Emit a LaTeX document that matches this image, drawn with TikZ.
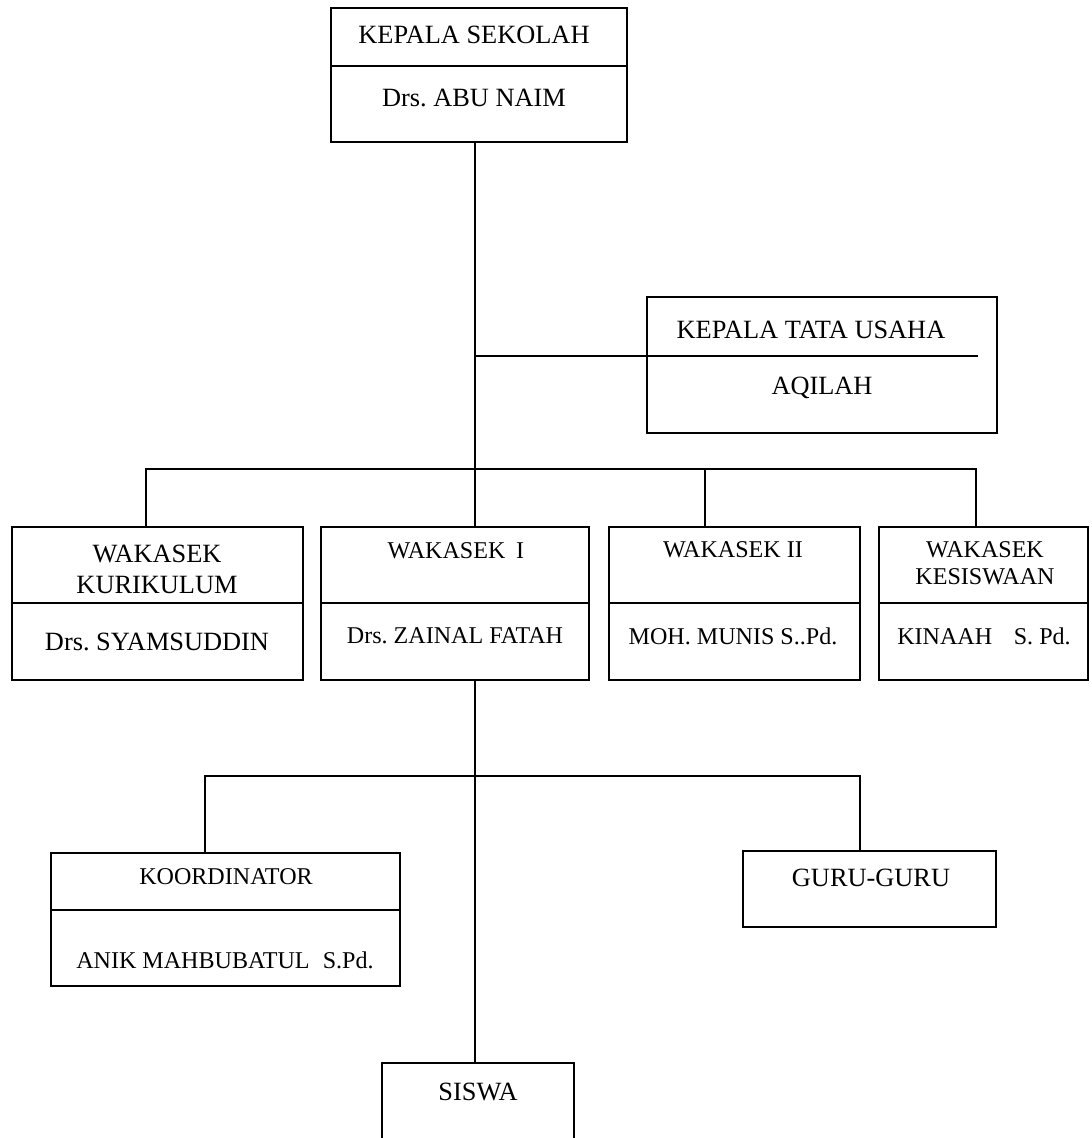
\documentclass[tikz,border=0pt]{standalone}
\usepackage{fontspec}
\setmainfont{Liberation Serif}
\usetikzlibrary{fit}
\frenchspacing
\begin{document}
\begin{tikzpicture}[x=0.02cm, y=-0.02cm, line width=1pt, line join=miter,
	box/.style={draw, inner sep=0pt, line width=1.1pt},
	big/.style={font=\fontsize{15}{17.6}\selectfont, inner sep=0pt, align=center},
	small/.style={font=\fontsize{13.7}{15.3}\selectfont, inner sep=0pt, align=center}]
	\useasboundingbox (0,0) rectangle (1091,1138);
	\clip (0,0) rectangle (1091,1138);
	\node[box, fit={(331,8) (627,142)}] (ks) {};
	\draw (331,66) -- (627,66);
	\node[big] (ks-a) at (474,35) {KEPALA SEKOLAH};
	\node[big] (ks-b) at (474,98) {Drs. ABU NAIM};
	\node[box, fit={(647,297) (997,433)}] (ktu) {};
	\node[big] (ktu-a) at (811,330) {KEPALA TATA USAHA};
	\node[big] (ktu-b) at (822,388) {AQILAH};
	\node[box, fit={(12,527) (303,680)}] (wkur) {};
	\node[box, fit={(321,527) (589,680)}] (wk1) {};
	\node[box, fit={(609,527) (860,680)}] (wk2) {};
	\node[box, fit={(879,527) (1088,680)}] (wkes) {};
	\foreach \a/\b in {12/303,321/589,609/860,879/1088}
	\draw (\a,603) -- (\b,603);
	\node[big] (wkur-a) at (157,569) {WAKASEK\\KURIKULUM};
	\node[big] (wkur-b) at (157,642) {Drs. SYAMSUDDIN};
	\node[small] (wk1-a) at (456,551) {WAKASEK\hspace{0.45em}I};
	\node[small] (wk1-b) at (455,636) {Drs. ZAINAL FATAH};
	\node[small] (wk2-a) at (733,550) {WAKASEK II};
	\node[small] (wk2-b) at (733,636) {MOH. MUNIS S..Pd.};
	\node[small] (wkes-a) at (985,563) {WAKASEK\\KESISWAAN};
	\node[small] (wkes-b) at (984,636) {KINAAH\hspace{0.9em}S. Pd.};
	\node[box, fit={(51,853) (400,986)}] (koor) {};
	\draw (51,910) -- (400,910);
	\node[small] (koor-a) at (226,877) {KOORDINATOR};
	\node[small] (koor-b) at (225,960) {ANIK MAHBUBATUL\hspace{0.55em}S.Pd.};
	\node[box, fit={(743,851) (996,927)}] (guru) {};
	\node[big] (guru-a) at (871,878) {GURU-GURU};
	\node[box, fit={(382,1063) (574,1170)}] (siswa) {};
	\node[big] (siswa-a) at (478,1092) {SISWA};
	\coordinate (j1) at (475,469);
	\coordinate (tu) at (475,356);
	\coordinate (tuend) at (978,356);
	\coordinate (d1) at (146,469);
	\coordinate (d2) at (705,469);
	\coordinate (d3) at (976,469);
	\coordinate (e1) at (205,776);
	\coordinate (e2) at (860,776);
	\draw (ks.south -| j1) -- (wk1.north -| j1);
	\draw (tu) -- (tuend);
	\draw (d1 |- wkur.north) -- (d1) -- (d3) -- (d3 |- wkes.north);
	\draw (d2) -- (d2 |- wk2.north);
	\draw (wk1.south -| j1) -- (siswa.north -| j1);
	\draw (e1 |- koor.north) -- (e1) -- (e2) -- (e2 |- guru.north);
\end{tikzpicture}
\end{document}
